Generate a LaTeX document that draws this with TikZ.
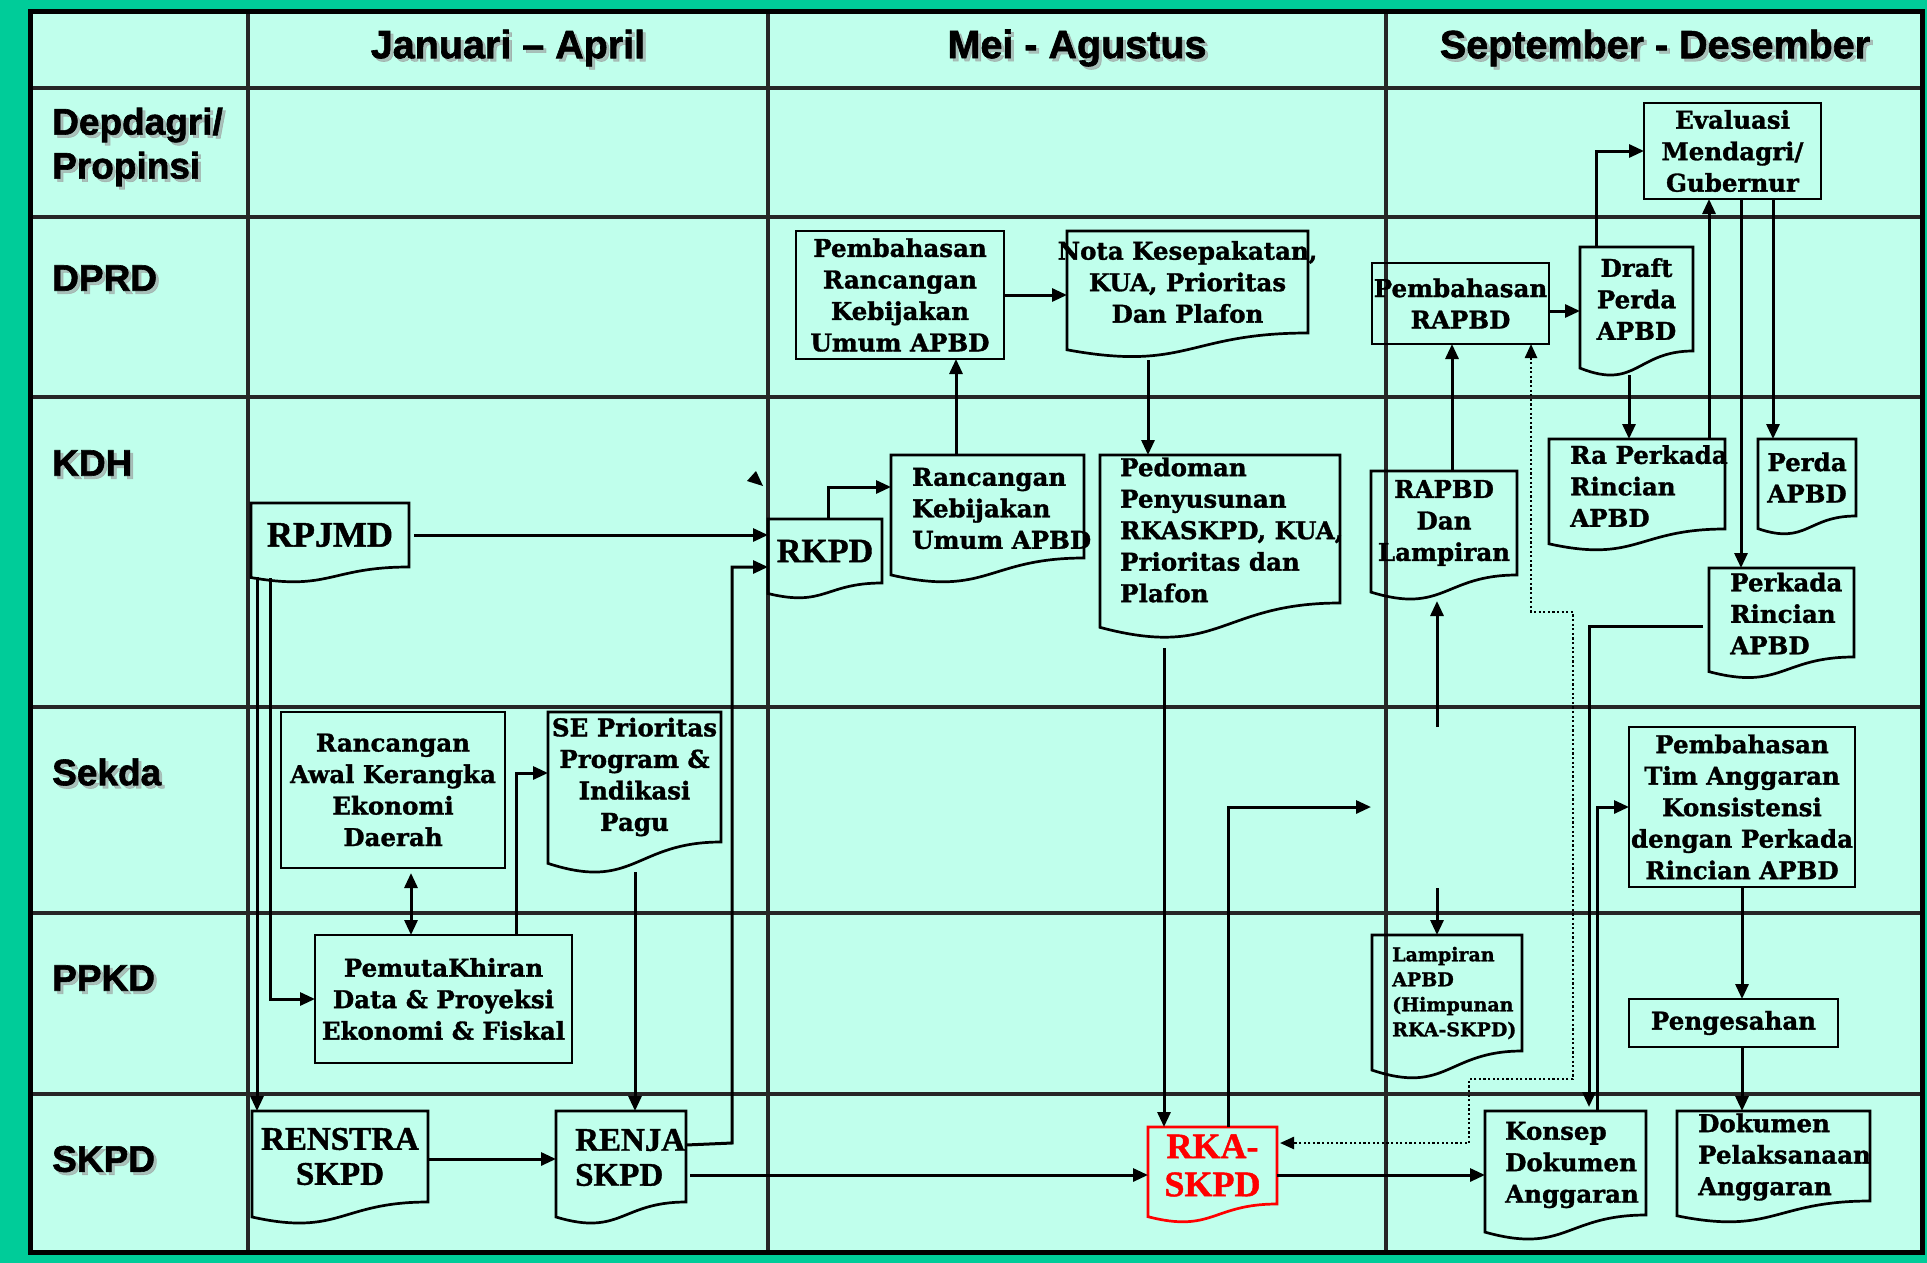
\documentclass[tikz,border=0pt]{standalone}
\usepackage{fontspec}
\usetikzlibrary{arrows.meta,calc}
\newfontfamily\bkf{DejaVu Serif}[BoldFeatures={FakeBold=1.3}]
\newfontfamily\tmf{Liberation Serif}[BoldFeatures={FakeBold=1.2}]
\newfontfamily\hdf{Liberation Sans}[BoldFeatures={FakeBold=1.6}]
\definecolor{bgc}{RGB}{192,255,236}
\definecolor{brd}{RGB}{0,204,153}
\definecolor{grd}{RGB}{38,38,38}
\definecolor{rkared}{RGB}{255,0,0}
\newcommand{\docshape}[2][black]{%
  \draw[#1, line width=2.7pt, line join=miter] (#2.north west) -- (#2.north east) -- (#2.south east)
    .. controls (#2.south) and ($(#2.south)!-0.381!(#2.north)$) ..
    ($(#2.south west)!-0.1646!(#2.north west)$) -- cycle;}
\begin{document}
\begin{tikzpicture}[x=1pt,y=-1pt,
  shp/.style={inner sep=0pt, outer sep=0pt},
  bx/.style={shp, draw, line width=2.7pt},
  bk/.style={font=\bkf\bfseries\fontsize{24.5}{31.5}\selectfont, inner sep=0pt, align=center},
  bkl/.style={bk, align=left, anchor=west},
  tm/.style={font=\tmf\bfseries\fontsize{33}{35}\selectfont, inner sep=0pt, align=center},
  hdr/.style={font=\hdf\bfseries\fontsize{39.5}{41}\selectfont, inner sep=0pt},
  rowl/.style={font=\hdf\bfseries\fontsize{37}{44}\selectfont, inner sep=0pt, anchor=west, align=left},
  shd/.style={text=black!40, opacity=0.6},
  conn/.style={line width=3pt, -{Triangle[length=15pt,width=13pt]}},
  dconn/.style={line width=3pt, {Triangle[length=15pt,width=13pt]}-{Triangle[length=15pt,width=13pt]}},
  dotc/.style={line width=2.4pt, dash pattern=on 2.2pt off 2.4pt, {Triangle[length=14pt,width=12pt]}-{Triangle[length=14pt,width=12pt]}},
  gl/.style={grd, line width=3.2pt}
]
\useasboundingbox (0,0) rectangle (1927,1263);
% background and frame
\fill[brd] (0,0) rectangle (1927,1263);
\fill[bgc] (30,12) rectangle (1922,1252);
% grid
\foreach \xx in {248,768,1386} \draw[gl] (\xx,12) -- (\xx,1252);
\foreach \yy in {88,217,397,707,913,1094} \draw[gl] (30,\yy) -- (1922,\yy);
\draw[black, line width=5pt] (30,12) rectangle (1922,1252);

% headers
\node[hdr, shd] (h1s) at (511,51) {Januari – April};
\node[hdr] (h1) at (508,48) {Januari – April};
\node[hdr, shd] (h2s) at (1080,51) {Mei - Agustus};
\node[hdr] (h2) at (1077,48) {Mei - Agustus};
\node[hdr, shd] (h3s) at (1658,51) {September - Desember};
\node[hdr] (h3) at (1655,48) {September - Desember};
% row labels
\node[rowl, shd] (r1s) at (55,150) {Depdagri/\\Propinsi};
\node[rowl] (r1) at (52,147) {Depdagri/\\Propinsi};
\node[rowl, shd] (r2s) at (55,281) {DPRD};
\node[rowl] (r2) at (52,278) {DPRD};
\node[rowl, shd] (r3s) at (55,466) {KDH};
\node[rowl] (r3) at (52,463) {KDH};
\node[rowl, shd] (r4s) at (55,775) {Sekda};
\node[rowl] (r4) at (52,772) {Sekda};
\node[rowl, shd] (r5s) at (55,981) {PPKD};
\node[rowl] (r5) at (52,978) {PPKD};
\node[rowl, shd] (r6s) at (55,1162) {SKPD};
\node[rowl] (r6) at (52,1159) {SKPD};

% rectangle boxes
\node[bx, minimum width=208pt, minimum height=128pt] (pbrk) at (900,295) {};
\node[bx, minimum width=177pt, minimum height=96pt] (eval) at (1732.5,151) {};
\node[bx, minimum width=177pt, minimum height=81pt] (prapbd) at (1460.5,303.5) {};
\node[bx, minimum width=224pt, minimum height=156pt] (raw) at (393,790) {};
\node[bx, minimum width=257pt, minimum height=128pt] (pemu) at (443.5,999) {};
\node[bx, minimum width=226pt, minimum height=160pt] (ptim) at (1742,807) {};
\node[bx, minimum width=209pt, minimum height=48pt] (peng) at (1733.5,1023) {};

% document shapes (rectangular part)
\node[shp, minimum width=241pt, minimum height=102pt] (nota) at (1187.5,282) {};
\node[shp, minimum width=158pt, minimum height=64pt] (rpjmd) at (330,535) {};
\node[shp, minimum width=114pt, minimum height=64pt] (rkpd) at (825,551) {};
\node[shp, minimum width=193pt, minimum height=103pt] (rkua) at (987.5,506.5) {};
\node[shp, minimum width=240pt, minimum height=148pt] (ped) at (1220,529) {};
\node[shp, minimum width=113pt, minimum height=104pt] (draft) at (1636.5,299) {};
\node[shp, minimum width=146pt, minimum height=104pt] (rapbd) at (1444,523) {};
\node[shp, minimum width=176pt, minimum height=90pt] (raperk) at (1637,484) {};
\node[shp, minimum width=98pt, minimum height=77pt] (perda) at (1807,477.5) {};
\node[shp, minimum width=145pt, minimum height=89pt] (perk) at (1781.5,612.5) {};
\node[shp, minimum width=173pt, minimum height=130pt] (se) at (634.5,777) {};
\node[shp, minimum width=150pt, minimum height=116pt] (lamp) at (1447,993) {};
\node[shp, minimum width=176pt, minimum height=91pt] (renstra) at (340,1156.5) {};
\node[shp, minimum width=130pt, minimum height=91pt] (renja) at (621,1156.5) {};
\node[shp, minimum width=129pt, minimum height=77pt] (rka) at (1212.5,1165.5) {};
\node[shp, minimum width=161pt, minimum height=104pt] (konsep) at (1565.5,1163) {};
\node[shp, minimum width=193pt, minimum height=90pt] (dpa) at (1773.5,1156) {};

\foreach \nn in {nota,rpjmd,rkpd,rkua,ped,draft,rapbd,raperk,perda,perk,se,lamp,renstra,renja,konsep,dpa} {\docshape{\nn}}
\docshape[rkared]{rka}

% texts
\node[bk] (pbrk-t) at (pbrk.center) {Pembahasan\\Rancangan\\Kebijakan\\Umum APBD};
\node[bk] (eval-t) at (eval.center) {Evaluasi\\Mendagri/\\Gubernur};
\node[bk] (prapbd-t) at (prapbd.center) {Pembahasan\\RAPBD};
\node[bk] (raw-t) at (raw.center) {Rancangan\\Awal Kerangka\\Ekonomi\\Daerah};
\node[bk] (pemu-t) at (pemu.center) {PemutaKhiran\\Data \& Proyeksi\\Ekonomi \& Fiskal};
\node[bk] (ptim-t) at (ptim.center) {Pembahasan\\Tim Anggaran\\Konsistensi\\dengan Perkada\\Rincian APBD};
\node[bk] (peng-t) at (peng.center) {Pengesahan};
\node[bk] (nota-t) at (nota.center) {Nota Kesepakatan,\\KUA, Prioritas\\Dan Plafon};
\node[tm, font=\tmf\bfseries\fontsize{36}{38}\selectfont] (rpjmd-t) at (rpjmd.center) {RPJMD};
\node[tm, font=\tmf\bfseries\fontsize{34}{36}\selectfont] (rkpd-t) at (rkpd.center) {RKPD};
\node[bkl] (rkua-t) at ($(rkua.west)+(21,2)$) {Rancangan\\Kebijakan\\Umum APBD};
\node[bkl] (ped-t) at ($(ped.west)+(20,1)$) {Pedoman\\Penyusunan\\RKASKPD, KUA,\\Prioritas dan\\Plafon};
\node[bk] (draft-t) at (draft.center) {Draft\\Perda\\APBD};
\node[bk] (rapbd-t) at (rapbd.center) {RAPBD\\Dan\\Lampiran};
\node[bkl] (raperk-t) at ($(raperk.west)+(21,2)$) {Ra Perkada\\Rincian\\APBD};
\node[bk] (perda-t) at (perda.center) {Perda\\APBD};
\node[bkl] (perk-t) at ($(perk.west)+(21,1)$) {Perkada\\Rincian\\APBD};
\node[bk] (se-t) at (se.center) {SE Prioritas\\Program \&\\Indikasi\\Pagu};
\node[bkl, font=\bkf\bfseries\fontsize{19}{25}\selectfont] (lamp-t) at ($(lamp.west)+(20,0)$) {Lampiran\\APBD\\(Himpunan\\RKA-SKPD)};
\node[tm] (renstra-t) at (renstra.center) {RENSTRA\\SKPD};
\node[tm, align=left, anchor=west] (renja-t) at ($(renja.west)+(19,1)$) {RENJA\\SKPD};
\node[tm, text=rkared, font=\tmf\bfseries\fontsize{36}{38}\selectfont] (rka-t) at (rka.center) {RKA-\\SKPD};
\node[bkl] (konsep-t) at ($(konsep.west)+(20,2)$) {Konsep\\Dokumen\\Anggaran};
\node[bkl] (dpa-t) at ($(dpa.west)+(21,1)$) {Dokumen\\Pelaksanaan\\Anggaran};

% free connector ends
\coordinate (fr1) at (1371,807);
\coordinate (fr2) at (1437,727);
\coordinate (fr3) at (1437,888);

% connectors
\draw[conn] ($(rpjmd.east)+(5,0)$) -- (rpjmd.east -| rkpd.west);
\draw[conn] ($(renja.north east)+(0,34)$) -- ($(renja.north east)+(46,32)$) |- ($(rkpd.west)+(0,16)$);
\draw[conn] ($(rkpd.north)+(3,0)$) |- ($(rkua.west)+(0,-19.5)$);
\draw[conn] ($(rkua.north)+(-31.5,0)$) -- ($(pbrk.south)+(56,0)$);
\draw[conn] (pbrk.east) -- (pbrk.east -| nota.west);
\draw[conn] ($(nota.south)+(-39.5,27)$) -- ($(ped.north)+(-72,0)$);
\draw[conn] ($(ped.south)+(-56,45)$) -- ($(rka.north)+(-48.5,0)$);
\draw[conn] ($(rka.north)+(15.5,0)$) |- (fr1);
\draw[conn] ($(renstra.east)+(0,2.5)$) -- ($(renja.west)+(0,2.5)$);
\draw[conn] ($(renja.east)+(4,18.5)$) -- ($(rka.west)+(0,9.5)$);
\draw[conn] ($(rka.east)+(0,9.5)$) -- ($(konsep.west)+(0,12)$);
\draw[conn] ($(rpjmd.south west)+(6,10)$) -- ($(renstra.north west)+(5,0)$);
\draw[conn] ($(rpjmd.south west)+(19,11)$) |- (pemu.west);
\draw[dconn] ($(raw.south)+(18,5)$) -- ($(pemu.north)+(-32.5,0)$);
\draw[conn] ($(pemu.north)+(72.5,0)$) |- ($(se.west)+(0,-4)$);
\draw[conn] ($(se.south)+(0.5,30)$) -- ($(renja.north)+(14,0)$);
\draw[conn] (fr2) -- ($(rapbd.south)+(-7,26)$);
\draw[conn] (fr3) -- ($(lamp.north)+(-10,0)$);
\draw[conn] ($(rapbd.north)+(8,0)$) -- ($(prapbd.south)+(-8.5,0)$);
\draw[conn] ($(prapbd.east)+(0,7.5)$) -- ($(prapbd.east -| draft.west)+(0,7.5)$);
\draw[conn] ($(draft.north west)+(16,0)$) |- (eval.west);
\draw[conn] ($(draft.south)+(-7.5,24)$) -- ($(raperk.north)+(-8,0)$);
\draw[conn] ($(raperk.north)+(72,0)$) -- ($(eval.south)+(-23.5,0)$);
\draw[conn] ($(eval.south)+(8.5,0)$) -- ($(perk.north)+(-40.5,0)$);
\draw[conn] ($(eval.south)+(40.5,0)$) -- ($(perda.north)+(-34,0)$);
\draw[conn] ($(perk.west)+(-6,13.5)$) -| ($(konsep.north)+(23.5,-4)$);
\draw[conn] ($(konsep.north)+(31.5,0)$) |- (ptim.west);
\draw[conn] (ptim.south) -- (ptim.south |- peng.north);
\draw[conn] ($(peng.south)+(8.5,0)$) -- ($(dpa.north)+(-31.5,0)$);
\draw[dotc] ($(prapbd.south)+(70.5,0)$) -- ++(0,268) -- ++(42,0) -- ++(0,467) -- ++(-104,0) -- ++(0,64) -- ($(rka.east)+(3,-22.5)$);
% stray arrowhead
\fill (756,471) -- (747,481) -- (763,486) -- cycle;
\end{tikzpicture}
\end{document}
